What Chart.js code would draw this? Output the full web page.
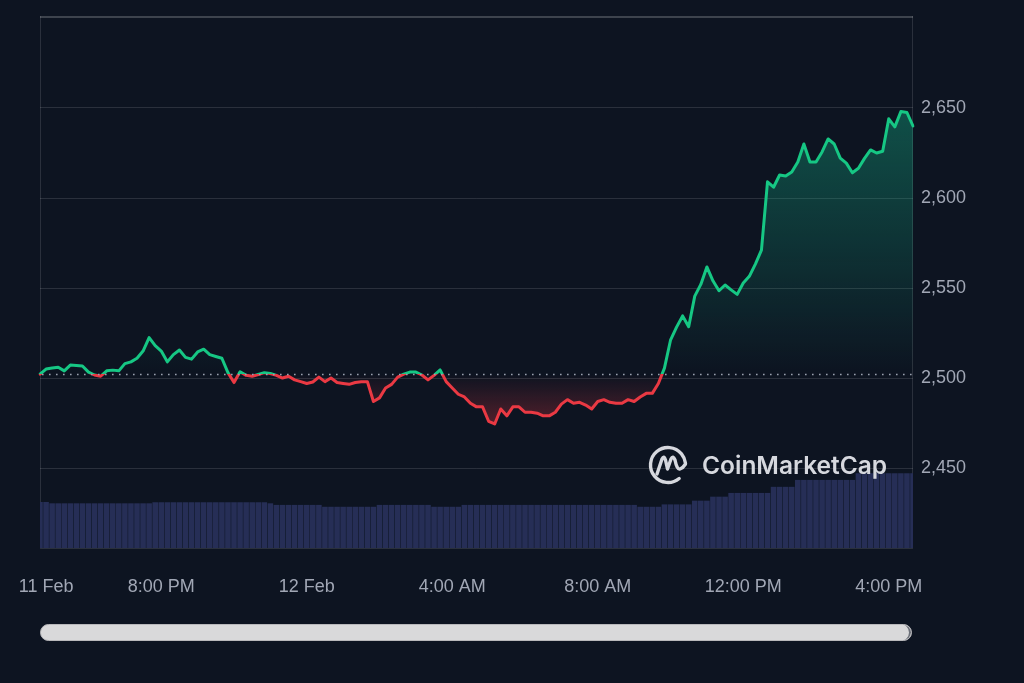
<!DOCTYPE html>
<html>
<head>
<meta charset="utf-8">
<script src="https://cdn.jsdelivr.net/npm/chart.js@4.4.1/dist/chart.umd.min.js"></script>
<style>
  html, body { margin: 0; background: #0d1421; }
  #wrap { position: relative; width: 1024px; height: 683px; }
  #scroll {
    position: absolute; left: 40px; top: 624px; width: 870px; height: 15px;
    background: #d9d9da; border-radius: 9px; border: 1px solid #b8b8bb;
    box-shadow: inset -3px 0 0 -1px #6b6f78;
  }
</style>
</head>
<body>
<div id="wrap">
  <canvas id="priceChart" width="1024" height="683"></canvas>
  <div id="scroll"></div>
</div>
<script>
// 24h window, one point every 10 min, first point 11 Feb 16:40
const startHour = 16;
const startMinute = 40;
const stepMinutes = 10;

const prices = [
  2502.2, 2505, 2505.6, 2506, 2504, 2507.2, 2507, 2506.7, 2503.3, 2501.7,
  2501, 2504, 2504.4, 2504, 2508, 2509, 2511, 2515, 2522.5, 2518,
  2515, 2509, 2513, 2515.6, 2511.5, 2510.5, 2514.5, 2516, 2513, 2512,
  2511, 2503, 2497.5, 2503.5, 2501.5, 2501, 2502, 2503, 2502.5, 2501.5,
  2500, 2501, 2499, 2498, 2497, 2497.8, 2500.5, 2498, 2500, 2497.5,
  2497, 2496.5, 2497.5, 2498, 2498, 2487, 2489, 2494.5, 2496.5, 2500.5,
  2502.2, 2503.3, 2503.3, 2501.7, 2499, 2501.5, 2504.5, 2498, 2494.5, 2491,
  2489.5, 2486, 2484, 2484, 2476, 2474.5, 2482.8, 2479, 2484, 2484,
  2481, 2481, 2480.5, 2479, 2479, 2481, 2485.5, 2488, 2486, 2486.5,
  2485, 2482.8, 2487, 2488, 2486.5, 2486, 2486, 2488, 2487, 2489.5,
  2491.5, 2491.5, 2497, 2505.5, 2521, 2528.3, 2534.5, 2528.5, 2545.5, 2552,
  2561.7, 2554, 2548.5, 2551.7, 2549, 2546.5, 2552.8, 2556.5, 2563.3, 2571,
  2609, 2606, 2612.8, 2612.2, 2614.4, 2620, 2630, 2620, 2620, 2625.6,
  2632.8, 2630, 2622.2, 2619.4, 2614, 2616.5, 2622, 2626.7, 2625, 2626,
  2644, 2639.5, 2648, 2647.5, 2640
];

// rolling 24h volume (billions USD, approx.)
const volumes = [
  8.65, 8.65, 8.4, 8.4, 8.4, 8.4, 8.4, 8.4, 8.4, 8.4,
  8.4, 8.4, 8.4, 8.4, 8.4, 8.4, 8.4, 8.4, 8.4, 8.6,
  8.6, 8.6, 8.6, 8.6, 8.6, 8.6, 8.6, 8.6, 8.6, 8.6,
  8.6, 8.6, 8.6, 8.6, 8.6, 8.6, 8.6, 8.6, 8.4, 8.1,
  8.1, 8.1, 8.1, 8.1, 8.1, 8.1, 8.1, 7.75, 7.75, 7.75,
  7.75, 7.75, 7.75, 7.75, 7.75, 7.75, 8.1, 8.1, 8.1, 8.1,
  8.1, 8.1, 8.1, 8.1, 8.1, 7.75, 7.75, 7.75, 7.75, 7.75,
  8.1, 8.1, 8.1, 8.1, 8.1, 8.1, 8.1, 8.1, 8.1, 8.1,
  8.1, 8.1, 8.1, 8.1, 8.1, 8.1, 8.1, 8.1, 8.1, 8.1,
  8.1, 8.1, 8.1, 8.1, 8.1, 8.1, 8.1, 8.1, 8.1, 7.75,
  7.75, 7.75, 7.75, 8.2, 8.2, 8.2, 8.2, 8.2, 8.9, 8.9,
  8.9, 9.65, 9.65, 9.65, 10.35, 10.35, 10.35, 10.35, 10.35, 10.35,
  10.35, 11.5, 11.5, 11.5, 11.5, 12.8, 12.8, 12.8, 12.8, 12.8,
  12.8, 12.8, 12.8, 12.8, 12.8, 14.05, 14.05, 14.05, 14.05, 14.05,
  14.05, 14.05, 14.05, 14.05, 14.05
];

const openPrice = 2502.2;
const yTicks = [2450, 2500, 2550, 2600, 2650];
const tickAt = [1, 20, 44, 68, 92, 116, 140];
const tickLabels = ['11 Feb', '8:00 PM', '12 Feb', '4:00 AM', '8:00 AM', '12:00 PM', '4:00 PM'];

const GREEN = '#16c784';
const RED = '#ea3943';
const TEXT = '#a1a7b5';
const FONT = '"Liberation Sans", Arial, sans-serif';

const times = prices.map((p, i) => {
  const m = startHour * 60 + startMinute + i * stepMinutes;
  const h = Math.floor(m / 60) % 24;
  return String(h).padStart(2, '0') + ':' + String(m % 60).padStart(2, '0');
});

function lineColor(chart) {
  const { ctx, chartArea, scales } = chart;
  if (!chartArea) return GREEN;
  const base = scales.y.getPixelForValue(openPrice);
  const f = Math.min(1, Math.max(0, (base - chartArea.top) / (chartArea.bottom - chartArea.top)));
  const g = ctx.createLinearGradient(0, chartArea.top, 0, chartArea.bottom);
  g.addColorStop(0, GREEN);
  g.addColorStop(f, GREEN);
  g.addColorStop(f, RED);
  g.addColorStop(1, RED);
  return g;
}

function fillColor(chart) {
  const { ctx, chartArea, scales } = chart;
  if (!chartArea) return 'transparent';
  const y = scales.y;
  const top = y.getPixelForValue(2650);
  const base = y.getPixelForValue(openPrice);
  const low = y.getPixelForValue(2470);
  const g = ctx.createLinearGradient(0, top, 0, low);
  const f = (base - top) / (low - top);
  g.addColorStop(0, 'rgba(22, 199, 150, 0.34)');
  g.addColorStop(f * 0.55, 'rgba(22, 199, 150, 0.16)');
  g.addColorStop(f, 'rgba(22, 199, 150, 0.0)');
  g.addColorStop(f, 'rgba(234, 57, 67, 0.0)');
  g.addColorStop(1, 'rgba(234, 57, 67, 0.36)');
  return g;
}

// frame, dotted open-price line, watermark
const framePlugin = {
  id: 'frame',
  beforeDatasetsDraw(chart) {
    const { ctx, chartArea: a } = chart;
    ctx.save();
    ctx.strokeStyle = 'rgba(255,255,255,0.12)';
    ctx.lineWidth = 1;
    ctx.beginPath();
    ctx.moveTo(a.left + 0.5, a.top);
    ctx.lineTo(a.left + 0.5, a.bottom + 0.5);
    ctx.lineTo(a.right - 0.5, a.bottom + 0.5);
    ctx.lineTo(a.right - 0.5, a.top);
    ctx.stroke();
    ctx.strokeStyle = 'rgba(255,255,255,0.2)';
    ctx.lineWidth = 2;
    ctx.beginPath();
    ctx.moveTo(a.left, a.top + 1);
    ctx.lineTo(a.right, a.top + 1);
    ctx.stroke();
    ctx.restore();
  },
  afterDatasetsDraw(chart) {
    const { ctx, chartArea: a, scales } = chart;
    const y = Math.round(scales.y.getPixelForValue(openPrice)) + 0.5;
    ctx.save();
    ctx.strokeStyle = '#9aa1af';
    ctx.lineWidth = 1.6;
    ctx.setLineDash([1.6, 5.4]);
    ctx.beginPath();
    ctx.moveTo(a.left + 2, y);
    ctx.lineTo(a.right, y);
    ctx.stroke();
    ctx.restore();

    ctx.save();
    ctx.strokeStyle = '#d6d8de';
    ctx.lineWidth = 3.4;
    ctx.lineCap = 'round';
    ctx.lineJoin = 'round';
    const cx = 668, cy = 465;
    ctx.beginPath();
    ctx.arc(cx, cy, 17.5, 0.28 * Math.PI, 1.96 * Math.PI);
    ctx.stroke();
    ctx.beginPath();
    ctx.moveTo(657, 474);
    ctx.lineTo(662, 459);
    ctx.quadraticCurveTo(664, 455, 665.5, 460);
    ctx.lineTo(667.5, 469);
    ctx.lineTo(671, 459);
    ctx.quadraticCurveTo(673, 455, 675, 460);
    ctx.quadraticCurveTo(677, 470, 680, 469);
    ctx.quadraticCurveTo(683, 468, 685.5, 464);
    ctx.stroke();
    ctx.fillStyle = '#d6d8de';
    ctx.font = '600 24.5px Inter, "Noto Sans", sans-serif';
    ctx.textBaseline = 'middle';
    ctx.fillText('CoinMarketCap', 702, 467);
    ctx.restore();
  }
};

new Chart(document.getElementById('priceChart'), {
  data: {
    labels: times,
    datasets: [
      {
        type: 'line',
        data: prices,
        yAxisID: 'y',
        order: 0,
        borderWidth: 3,
        pointRadius: 0,
        tension: 0,
        borderJoinStyle: 'round',
        borderCapStyle: 'round',
        borderColor: ctx => lineColor(ctx.chart),
        backgroundColor: ctx => fillColor(ctx.chart),
        fill: { target: { value: openPrice } }
      },
      {
        type: 'bar',
        data: volumes,
        yAxisID: 'y1',
        order: 1,
        backgroundColor: '#262e56',
        barPercentage: 0.92,
        categoryPercentage: 1
      }
    ]
  },
  options: {
    responsive: false,
    animation: false,
    layout: { padding: { left: 40, top: 16, right: 0, bottom: 0 } },
    plugins: { legend: { display: false }, tooltip: { enabled: false } },
    scales: {
      x: {
        offset: false,
        grid: { display: false },
        border: { display: false },
        ticks: {
          autoSkip: false,
          maxRotation: 0,
          padding: 20,
          color: TEXT,
          font: { family: FONT, size: 18 },
          callback: (v, i) => {
            const k = tickAt.indexOf(i);
            return k >= 0 ? tickLabels[k] : '';
          }
        },
        afterFit: s => { s.height = 135; }
      },
      y: {
        position: 'right',
        min: 2405.6,
        max: 2701.1,
        grid: { color: 'rgba(255,255,255,0.12)', drawTicks: false },
        border: { display: false },
        afterBuildTicks: s => { s.ticks = yTicks.map(v => ({ value: v })); },
        ticks: {
          padding: 8,
          color: TEXT,
          font: { family: FONT, size: 18 },
          callback: v => v.toLocaleString('en-US')
        },
        afterFit: s => { s.width = 111; s.paddingTop = 0; s.paddingBottom = 0; }
      },
      y1: { display: false, min: 0, max: 100 }
    }
  },
  plugins: [framePlugin]
});
</script>
</body>
</html>
